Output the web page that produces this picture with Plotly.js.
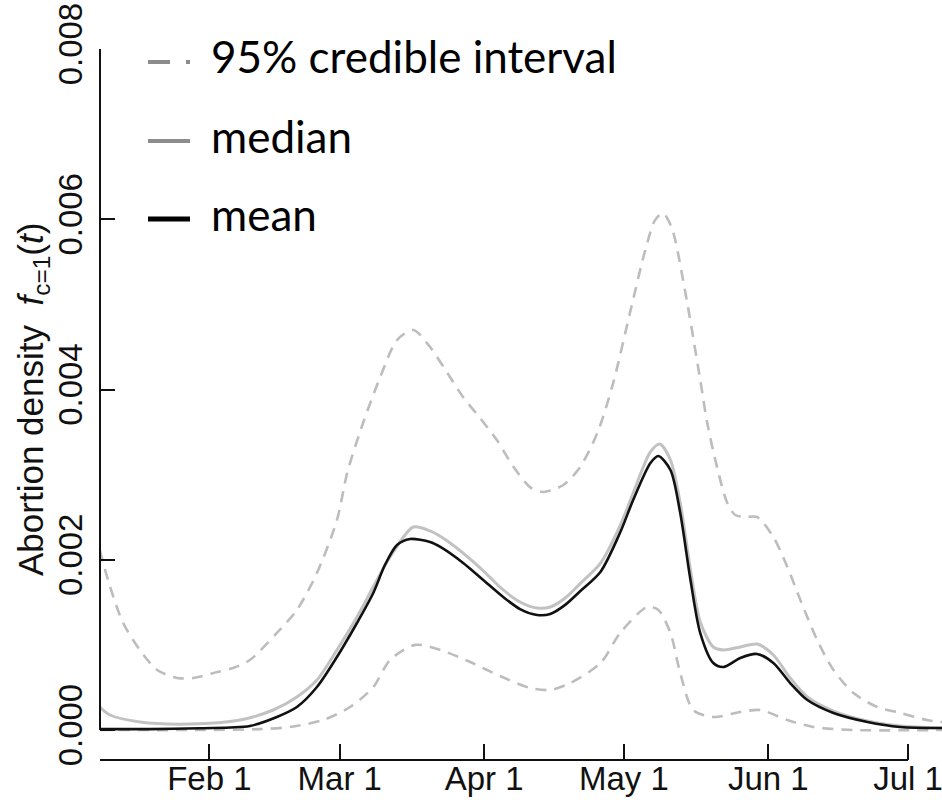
<!DOCTYPE html>
<html>
<head>
<meta charset="utf-8">
<script src="https://cdn.plot.ly/plotly-3.0.1.min.js"></script>
<style>html,body{margin:0;padding:0;background:#fff;}#chart{width:942px;height:800px;}</style>
</head>
<body>
<div id="chart"></div>
<script>
// x values are day-of-year (Jan 1 = 0)
var tickDays = [31, 59, 90, 120, 151, 181];
var tickLabels = ['Feb 1', 'Mar 1', 'Apr 1', 'May 1', 'Jun 1', 'Jul 1'];
var yTicks = [0, 0.002, 0.004, 0.006, 0.008];
var yTickLabels = ['0.000', '0.002', '0.004', '0.006', '0.008'];

var upperDays = [7.5, 9.7, 12.5, 16.1, 19.8, 24.1, 27.5, 32.7, 36.1, 39.7, 45.5, 49.8, 54.1, 58.4, 60.6, 64.0, 67.7, 71.3, 74.8, 78.4, 82.1, 85.5, 89.2, 92.8, 96.2, 99.9, 102.7, 107.0, 110.6, 114.3, 117.7, 121.3, 124.6, 126.7, 128.4, 130.3, 133.1, 136.4, 137.9, 140.0, 142.2, 143.9, 146.1, 148.6, 152.1, 155.1, 157.9, 161.5, 165.0, 169.3, 174.4, 179.3, 185.1, 188.3];
var upper = [0.00211, 0.00168, 0.001257, 0.00094, 0.000705, 0.000611, 0.000611, 0.000681, 0.000728, 0.000822, 0.00114, 0.00141, 0.001844, 0.002467, 0.00302, 0.003606, 0.004147, 0.004581, 0.004699, 0.004499, 0.004194, 0.00391, 0.00366, 0.0034, 0.0031, 0.00285, 0.002796, 0.002878, 0.003089, 0.003489, 0.004076, 0.004898, 0.005639, 0.00599, 0.006073, 0.005897, 0.005169, 0.004111, 0.003606, 0.003089, 0.002667, 0.002526, 0.002502, 0.002502, 0.002267, 0.001915, 0.001527, 0.001057, 0.000705, 0.000435, 0.00027, 0.0002, 0.000117, 0.000094];

var meanDays = [7.5, 18.3, 29.0, 35.5, 39.7, 45.5, 49.8, 54.1, 58.4, 62.7, 66.2, 68.7, 71.3, 74.1, 78.4, 80.6, 85.5, 89.8, 94.1, 97.7, 101.4, 104.2, 107.4, 110.6, 115.0, 119.2, 122.0, 125.7, 127.4, 130.0, 132.1, 134.3, 136.4, 139.2, 141.4, 145.0, 148.6, 152.1, 155.7, 159.4, 165.0, 172.3, 179.3, 188.3];
var mean = [0.00001, 0.00001, 0.00002, 0.00003, 0.000047, 0.000153, 0.00027, 0.000505, 0.000858, 0.001257, 0.001609, 0.001938, 0.002173, 0.002244, 0.002208, 0.00215, 0.001962, 0.001762, 0.001562, 0.001421, 0.001351, 0.001363, 0.00147, 0.00163, 0.00186, 0.00232, 0.002702, 0.003136, 0.003219, 0.003054, 0.002549, 0.001762, 0.001139, 0.000787, 0.00074, 0.000846, 0.000893, 0.000787, 0.000552, 0.000352, 0.0002, 0.000094, 0.000035, 0.000023];

var medianDays = [7.5, 9.7, 16.1, 26.9, 37.6, 44.7, 49.8, 54.1, 58.4, 62.7, 67.0, 69.8, 74.8, 78.4, 82.7, 89.2, 94.1, 97.7, 101.4, 104.2, 107.4, 110.6, 115.0, 119.2, 122.0, 125.7, 127.7, 130.0, 132.1, 134.3, 136.4, 139.2, 141.4, 145.0, 148.6, 152.1, 155.7, 159.4, 165.0, 172.3, 179.3, 188.3];
var median = [0.00027, 0.000176, 0.000094, 0.00007, 0.000117, 0.000235, 0.000388, 0.000587, 0.00094, 0.001327, 0.001762, 0.002032, 0.002385, 0.002338, 0.002197, 0.001903, 0.001645, 0.001504, 0.001433, 0.001445, 0.00155, 0.00172, 0.00196, 0.0024, 0.002784, 0.003266, 0.00336, 0.003172, 0.002667, 0.00188, 0.001269, 0.000975, 0.00094, 0.000975, 0.00101, 0.000881, 0.000611, 0.000388, 0.000223, 0.000106, 0.000047, 0.000023];

var lowerDays = [7.5, 29.0, 41.9, 48.3, 55.4, 61.2, 66.2, 69.8, 75.2, 80.6, 87.0, 93.4, 99.9, 104.2, 108.5, 115.0, 119.2, 125.0, 127.4, 130.0, 132.1, 134.9, 139.2, 145.0, 149.3, 155.1, 160.7, 169.3, 188.3];
var lower = [0.0, 0.0, 0.00001, 0.000035, 0.000117, 0.00027, 0.000505, 0.000822, 0.001, 0.00094, 0.000799, 0.000634, 0.000493, 0.00047, 0.000552, 0.000787, 0.00114, 0.001445, 0.00141, 0.00114, 0.00067, 0.000235, 0.000153, 0.000211, 0.000235, 0.000117, 0.000035, 0.0, 0.0];

var legendLabels = ['95% credible interval', 'median', 'mean'];
var yTitle = 'Abortion density  <i>f</i><sub>c=1</sub>(<i>t</i>)';

// geometry helpers (pixel -> paper)
var L = 100, R = 942, T = 49, B = 760;
function px(x) { return (x - L) / (R - L); }
function py(y) { return (B - y) / (B - T); }

var axisFont = {family: 'Liberation Sans, Arial, sans-serif', size: 33, color: '#111'};
var dashStyle = {color: '#bdbdbd', width: 2.6, dash: '11px,8px', shape: 'spline', smoothing: 0.8};

var traces = [
  {x: upperDays, y: upper, mode: 'lines', line: dashStyle, hoverinfo: 'skip'},
  {x: lowerDays, y: lower, mode: 'lines', line: dashStyle, hoverinfo: 'skip'},
  {x: medianDays, y: median, mode: 'lines', line: {color: '#c2c2c2', width: 3, shape: 'spline', smoothing: 0.8}, hoverinfo: 'skip'},
  {x: meanDays, y: mean, mode: 'lines', line: {color: '#111111', width: 2.6, shape: 'spline', smoothing: 0.8}, hoverinfo: 'skip'}
];

var shapes = [
  {type: 'line', xref: 'paper', yref: 'y', x0: 0, x1: 0, y0: 0, y1: 0.008, line: {color: '#111', width: 2}},
  {type: 'line', xref: 'paper', yref: 'paper', x0: 0, x1: px(908), y0: 0, y1: 0, line: {color: '#111', width: 2}},
  {type: 'line', xref: 'paper', yref: 'paper', x0: px(148), x1: px(170), y0: py(62), y1: py(62), line: {color: '#8c8c8c', width: 4}},
  {type: 'line', xref: 'paper', yref: 'paper', x0: px(186), x1: px(190), y0: py(62), y1: py(62), line: {color: '#8c8c8c', width: 4}},
  {type: 'line', xref: 'paper', yref: 'paper', x0: px(148), x1: px(190), y0: py(141), y1: py(141), line: {color: '#8c8c8c', width: 4}},
  {type: 'line', xref: 'paper', yref: 'paper', x0: px(148), x1: px(190), y0: py(219), y1: py(219), line: {color: '#000', width: 5}}
];

var legendFont = {family: 'Lato, Open Sans, sans-serif', size: 44, color: '#000'};
var legendY = [56, 136, 214];
var annotations = legendLabels.map(function (t, i) {
  return {text: t, xref: 'paper', yref: 'paper', x: px(209), y: py(legendY[i]), xanchor: 'left', yanchor: 'middle', showarrow: false, font: legendFont};
});
annotations.push({text: yTitle, xref: 'paper', yref: 'paper', x: px(33), y: py(400), xanchor: 'center', yanchor: 'middle', textangle: -90, showarrow: false, font: {family: axisFont.family, size: 35, color: '#111'}});

var layout = {
  width: 942, height: 800,
  margin: {l: L, r: 942 - R, t: T, b: 800 - B, pad: 0},
  paper_bgcolor: '#fff', plot_bgcolor: '#fff',
  showlegend: false,
  xaxis: {
    range: [7.53, 188.3], showgrid: false, zeroline: false, showline: false,
    tickmode: 'array', tickvals: tickDays, ticktext: tickLabels,
    ticks: 'inside', ticklen: 16, tickwidth: 2, tickcolor: '#111',
    tickfont: axisFont, automargin: false, ticklabelstandoff: -4, ticklabeloverflow: 'allow'
  },
  yaxis: {
    range: [-(B - 730) * 0.008 / (730 - T), 0.0080001], showgrid: false, zeroline: false, showline: false,
    tickmode: 'array', tickvals: yTicks, ticktext: yTickLabels,
    ticks: 'inside', ticklen: 15, tickwidth: 2, tickcolor: '#111',
    tickangle: -90, tickfont: axisFont, automargin: false, ticklabelstandoff: 10, ticklabeloverflow: 'allow'
  },
  shapes: shapes,
  annotations: annotations
};

Plotly.newPlot('chart', traces, layout, {displayModeBar: false, staticPlot: true});
</script>
</body>
</html>
